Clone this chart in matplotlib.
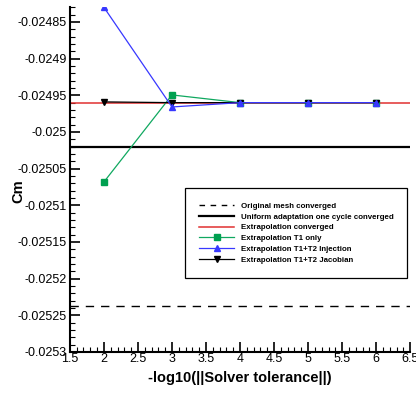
import matplotlib
matplotlib.use("Agg")
import matplotlib.pyplot as plt
from matplotlib.ticker import MultipleLocator
from matplotlib.lines import Line2D

plt.rcParams['font.family'] = ['Liberation Sans', 'DejaVu Sans']

tol = [2, 3, 4, 5, 6]
t1_only = [-0.0250682, -0.0249495, -0.0249600, -0.0249600, -0.0249600]
t1t2_inj = [-0.0248300, -0.0249659, -0.0249600, -0.0249600, -0.0249600]
t1t2_jac = [-0.0249590, -0.0249600, -0.0249600, -0.0249600, -0.0249600]
original_conv = -0.025237
uniform_conv = -0.0250205
extrap_conv = -0.0249604

yticks = [-0.02485, -0.0249, -0.02495, -0.025, -0.02505, -0.0251, -0.02515, -0.0252, -0.02525, -0.0253]
ytick_labels = ['-0.02485', '-0.0249', '-0.02495', '-0.025', '-0.02505', '-0.0251', '-0.02515', '-0.0252', '-0.02525', '-0.0253']
xticks = [1.5, 2, 2.5, 3, 3.5, 4, 4.5, 5, 5.5, 6, 6.5]
xtick_labels = ['1.5', '2', '2.5', '3', '3.5', '4', '4.5', '5', '5.5', '6', '6.5']

fig = plt.figure(figsize=(4.16, 3.95), dpi=100)
ax = fig.add_axes([0.168, 0.109, 0.818, 0.8725])

ax.axhline(original_conv, color='black', lw=1.0, ls=(0, (6, 5)), zorder=2)
ax.axhline(uniform_conv, color='black', lw=1.6, zorder=2)
ax.axhline(extrap_conv, color='#e03030', lw=1.1, zorder=2)
ax.plot(tol, t1_only, color='#10a860', lw=0.9, marker='s', ms=4.5, mfc='#00a050', mec='#00a050', zorder=3)
ax.plot(tol, t1t2_jac, color='black', lw=0.9, marker='v', ms=4.5, zorder=3)
ax.plot(tol, t1t2_inj, color='#3838ff', lw=0.9, marker='^', ms=4.5, mfc='#3838ff', mec='#3838ff', zorder=4)

ax.set_xlim(1.5, 6.5)
ax.set_ylim(-0.0253, -0.02483)
ax.set_xticks(xticks)
ax.set_xticklabels(xtick_labels)
ax.set_yticks(yticks)
ax.set_yticklabels(ytick_labels)
ax.xaxis.set_minor_locator(MultipleLocator(0.1))
ax.yaxis.set_minor_locator(MultipleLocator(0.00001))

for s in ['top', 'right']:
    ax.spines[s].set_visible(False)
for s in ['left', 'bottom']:
    ax.spines[s].set_linewidth(1.5)

ax.tick_params(which='major', direction='in', length=7, width=1.2, labelsize=9, pad=2)
ax.tick_params(which='minor', direction='in', length=3.5, width=0.8)
ax.tick_params(axis='x', pad=1)

ax.set_xlabel('-log10(||Solver tolerance||)', fontsize=10.5, fontweight='bold', labelpad=4)
ax.set_ylabel('Cm', fontsize=10.5, fontweight='bold')
ax.yaxis.set_label_coords(-0.13, 0.467)

handles = [
    Line2D([], [], color='black', lw=1.0, ls=(0, (4, 4))),
    Line2D([], [], color='black', lw=1.6),
    Line2D([], [], color='#e03030', lw=1.1),
    Line2D([], [], color='#10a860', lw=0.9, marker='s', ms=4, mfc='#00a050', mec='#00a050'),
    Line2D([], [], color='#3838ff', lw=0.9, marker='^', ms=4, mfc='#3838ff', mec='#3838ff'),
    Line2D([], [], color='black', lw=0.9, marker='v', ms=4),
]
labels = ['Original mesh converged', 'Uniform adaptation one cycle converged', 'Extrapolation converged',
          'Extrapolation T1 only', 'Extrapolation T1+T2 Injection', 'Extrapolation T1+T2 Jacobian']
leg = ax.legend(handles, labels, loc='upper left', bbox_to_anchor=(0.338, 0.475),
                prop={'family': 'Liberation Sans', 'weight': 'bold', 'size': 5.7},
                frameon=True, fancybox=False, edgecolor='black', framealpha=1,
                handlelength=4.5, handletextpad=0.8, labelspacing=0.42, borderpad=1.75,
                borderaxespad=0)
leg.get_frame().set_linewidth(0.9)

fig.savefig('out.png', dpi=100)
